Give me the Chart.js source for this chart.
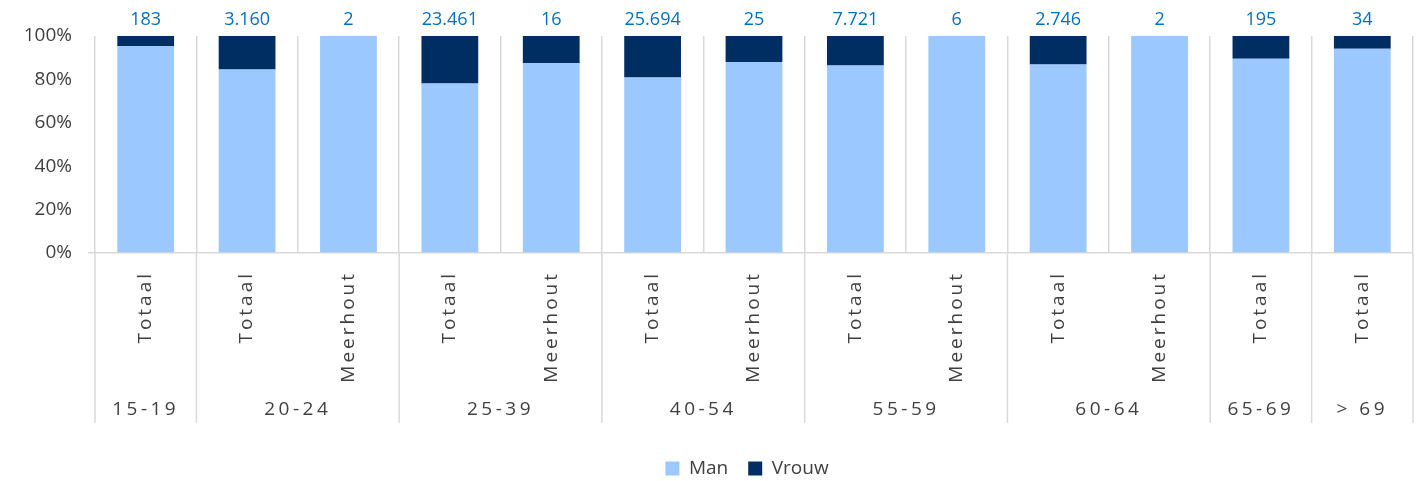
<!DOCTYPE html>
<html lang="nl">
<head>
<meta charset="UTF-8">
<title>Man / Vrouw per leeftijdsgroep</title>
<script src="https://cdn.jsdelivr.net/npm/chart.js"></script>
<style>
  body { margin: 0; background: #fff; }
</style>
</head>
<body>
<canvas id="genderChart" width="1416" height="481"></canvas>
<script>
  // data
  var subLabels = ['Totaal', 'Totaal', 'Meerhout', 'Totaal', 'Meerhout', 'Totaal', 'Meerhout',
                   'Totaal', 'Meerhout', 'Totaal', 'Meerhout', 'Totaal', 'Totaal'];
  var ageGroups = ['15-19', '20-24', '25-39', '40-54', '55-59', '60-64', '65-69', '> 69'];
  var groupSizes = [1, 2, 2, 2, 2, 2, 1, 1];
  var totals = ['183', '3.160', '2', '23.461', '16', '25.694', '25', '7.721', '6', '2.746', '2', '195', '34'];
  var manPct = [95.4, 84.6, 100, 78.1, 87.5, 80.9, 88, 86.4, 100, 86.9, 100, 89.5, 94.1];
  var vrouwPct = [4.6, 15.4, 0, 21.9, 12.5, 19.1, 12, 13.6, 0, 13.1, 0, 10.5, 5.9];

  var textColor = '#404040';
  var lineColor = '#d9d9d9';
  var font = '"Open Sans", sans-serif';

  // totals above the bars, vertical sublabels and the age group row underneath
  var labelsPlugin = {
    id: 'groupLabels',
    afterLayout: function (chart) {
      // nudge the legend a bit, like the original
      chart.legend.top += 7;
      chart.legend.bottom += 7;
      chart.legend.left -= 7;
      chart.legend.right -= 7;
    },
    afterDraw: function (chart) {
      var ctx = chart.ctx, x = chart.scales.x, area = chart.chartArea;
      ctx.save();

      ctx.font = '18px ' + font;
      ctx.fillStyle = '#0070C0';
      ctx.textAlign = 'center';
      ctx.textBaseline = 'middle';
      totals.forEach(function (t, i) {
        ctx.fillText(t, x.getPixelForValue(i), area.top - 16);
      });

      ctx.font = '19px ' + font;
      ctx.fillStyle = textColor;
      ctx.letterSpacing = '3px';
      subLabels.forEach(function (s, i) {
        ctx.save();
        ctx.translate(x.getPixelForValue(i), area.bottom + 18);
        ctx.rotate(-Math.PI / 2);
        ctx.textAlign = 'right';
        ctx.fillText(s, 0, 0);
        ctx.restore();
      });

      ctx.strokeStyle = lineColor;
      ctx.lineWidth = 1.5;
      ctx.letterSpacing = '3.5px';
      var start = 0;
      groupSizes.forEach(function (n, g) {
        var left = x.getPixelForValue(start - 0.5);
        var right = x.getPixelForValue(start + n - 0.5);
        ctx.beginPath();
        ctx.moveTo(left, area.bottom);
        ctx.lineTo(left, area.bottom + 170);
        if (g === groupSizes.length - 1) {
          ctx.moveTo(right, area.bottom);
          ctx.lineTo(right, area.bottom + 170);
        }
        ctx.stroke();
        ctx.fillText(ageGroups[g], (left + right) / 2, area.bottom + 157);
        start += n;
      });

      ctx.restore();
    }
  };

  var ctx = document.getElementById('genderChart').getContext('2d');
  var genderChart = new Chart(ctx, {
    type: 'bar',
    data: {
      labels: subLabels,
      datasets: [{
        label: 'Man',
        data: manPct,
        backgroundColor: '#9BC8FF',
        borderWidth: 0,
        barPercentage: 0.56,
        categoryPercentage: 1
      }, {
        label: 'Vrouw',
        data: vrouwPct,
        backgroundColor: '#002E63',
        borderWidth: 0,
        barPercentage: 0.56,
        categoryPercentage: 1
      }]
    },
    options: {
      responsive: false,
      animation: false,
      layout: { padding: { top: 36, right: 3, left: 0, bottom: 0 } },
      plugins: {
        tooltip: { enabled: false },
        legend: {
          position: 'bottom',
          fullSize: false,
          labels: {
            boxWidth: 14,
            boxHeight: 14,
            padding: 20,
            color: textColor,
            font: { family: font, size: 19 }
          }
        }
      },
      scales: {
        x: {
          stacked: true,
          offset: true,
          grid: { offset: true, color: lineColor, lineWidth: 1.5, drawTicks: false },
          border: { color: lineColor, width: 1.5 },
          ticks: { display: false },
          afterFit: function (scale) { scale.height = 179; }
        },
        y: {
          stacked: true,
          min: 0,
          max: 100,
          afterFit: function (scale) { scale.width = 95; },
          ticks: {
            stepSize: 20,
            padding: 16,
            color: textColor,
            font: { family: font, size: 19 },
            callback: function (v) { return v + '%'; }
          },
          grid: {
            drawOnChartArea: false,
            tickLength: 7,
            lineWidth: 1.5,
            color: function (c) { return c.tick && c.tick.value === 0 ? lineColor : 'rgba(0,0,0,0)'; }
          },
          border: { display: false }
        }
      }
    },
    plugins: [labelsPlugin]
  });
</script>
</body>
</html>
